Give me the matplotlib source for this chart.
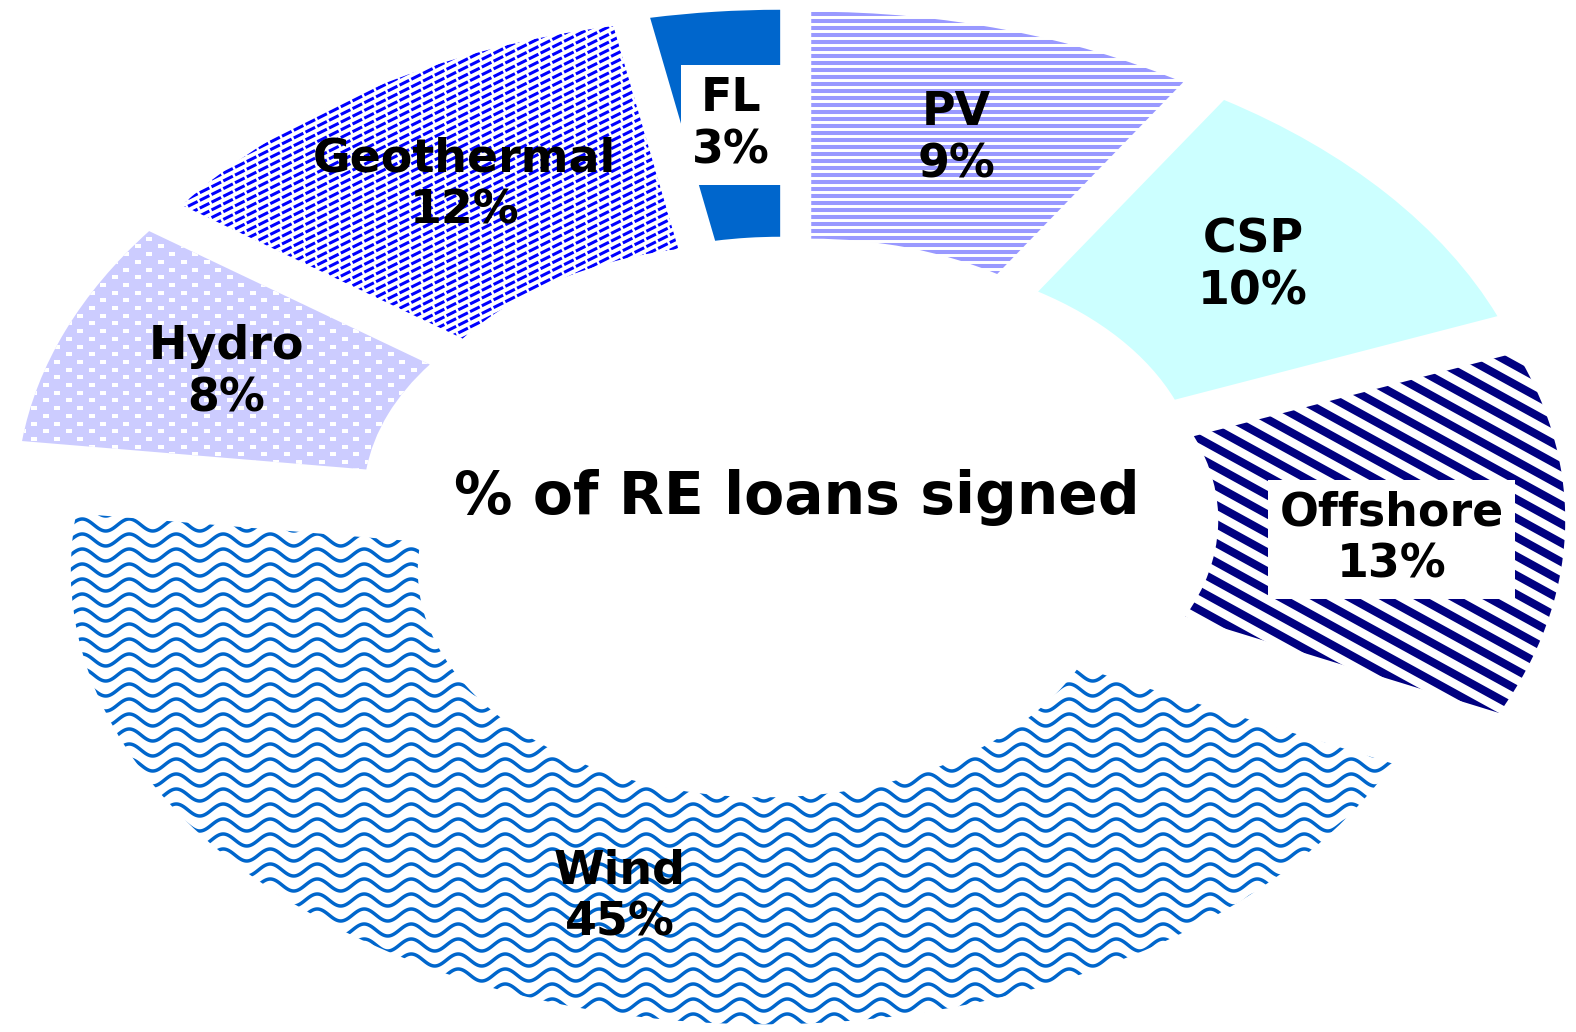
import numpy as np
import matplotlib.pyplot as plt
from matplotlib.collections import LineCollection

W, H = 1576, 1032

# Datos
categorias = ['PV', 'CSP', 'Offshore', 'Wind', 'Hydro', 'Geothermal', 'FL']
porcentajes = [9, 10, 13, 45, 8, 12, 3]
colores = ['white', '#CCFFFF', 'white', 'white', '#CCCCFF', 'white', '#0066CC']
titulo = '% of RE loans signed'

plt.rcParams['font.family'] = ['DejaVu Sans']

fig = plt.figure(figsize=(W / 100, H / 100), dpi=100)
ax = fig.add_axes([0, 0, 1, 1])
wedges, _ = ax.pie(porcentajes, explode=[0.12] * len(porcentajes), startangle=90,
                   counterclock=False, colors=colores,
                   wedgeprops=dict(width=0.5, linewidth=0))
# anillo eliptico: estirar los ejes
ax.set_aspect('auto')
cx, cy, rx, ry = 788, 518, 694, 454
ax.set_xlim(-cx / rx, (W - cx) / rx)
ax.set_ylim((cy - H) / ry, cy / ry)
ax.axis('off')

# capa para las tramas, en pixeles (y hacia abajo)
pax = fig.add_axes([0, 0, 1, 1])
pax.set_xlim(0, W)
pax.set_ylim(H, 0)
pax.axis('off')
pax.patch.set_visible(False)

cuña = dict(zip(categorias, wedges))


def trama(nombre, segmentos, color, lw, **kw):
    lc = LineCollection(segmentos, colors=color, linewidths=lw, capstyle='butt', **kw)
    lc.set_clip_path(cuña[nombre])
    pax.add_collection(lc)


# PV: rayas horizontales
trama('PV', [[(0, y), (W, y)] for y in np.arange(0, H, 7)], '#9999FF', 2.9)

# Offshore: rayas diagonales anchas
pend = 0.55
trama('Offshore', [[(0, b), (W, b + pend * W)] for b in np.arange(-pend * W, H, 19)],
      '#000080', 5.8)

# Geothermal: diagonales finas discontinuas
pend = 0.5
trama('Geothermal', [[(0, b), (W, b - pend * W)] for b in np.arange(0, H + pend * W, 7.7)],
      '#0000FF', 2.2, linestyles=[(0, (3.5, 0.8))])

# Wind: ondas
xs = np.arange(0, W + 2, 1.0)
trama('Wind', [np.column_stack([xs, y0 + 6 * np.sin(2 * np.pi * xs / 47)])
               for y0 in np.arange(0, H + 15, 15)], '#0066CC', 2.5)

# Hydro: puntos blancos
px, py = [], []
for i, y in enumerate(np.arange(0, H, 7.7)):
    off = 0 if i % 2 == 0 else 11.5
    for x in np.arange(off, W, 23):
        px.append(x)
        py.append(y)
rect = [(-1, -0.55), (1, -0.55), (1, 0.55), (-1, 0.55)]
sc = pax.scatter(px, py, s=24, marker=rect, color='white', linewidths=0)
sc.set_clip_path(cuña['Hydro'])

# Etiquetas
for w, cat, p in zip(wedges, categorias, porcentajes):
    ang = np.deg2rad((w.theta1 + w.theta2) / 2)
    r = w.r - w.width / 2
    x = w.center[0] + r * np.cos(ang)
    y = w.center[1] + r * np.sin(ang)
    caja = None
    if cat in ('FL', 'Offshore'):
        caja = dict(boxstyle='square,pad=0.25', facecolor='white', edgecolor='none')
    if cat == 'Offshore':
        y -= 0.02
    pax.text(x, y, f'{cat}\n{p}%', transform=ax.transData, ha='center', va='center',
             fontsize=33, fontweight='bold', color='black', bbox=caja, zorder=5)

pax.text(797, 497, titulo, ha='center', va='center', fontsize=42,
         fontweight='bold', color='black', zorder=5)

fig.savefig('out.png', dpi=100)
